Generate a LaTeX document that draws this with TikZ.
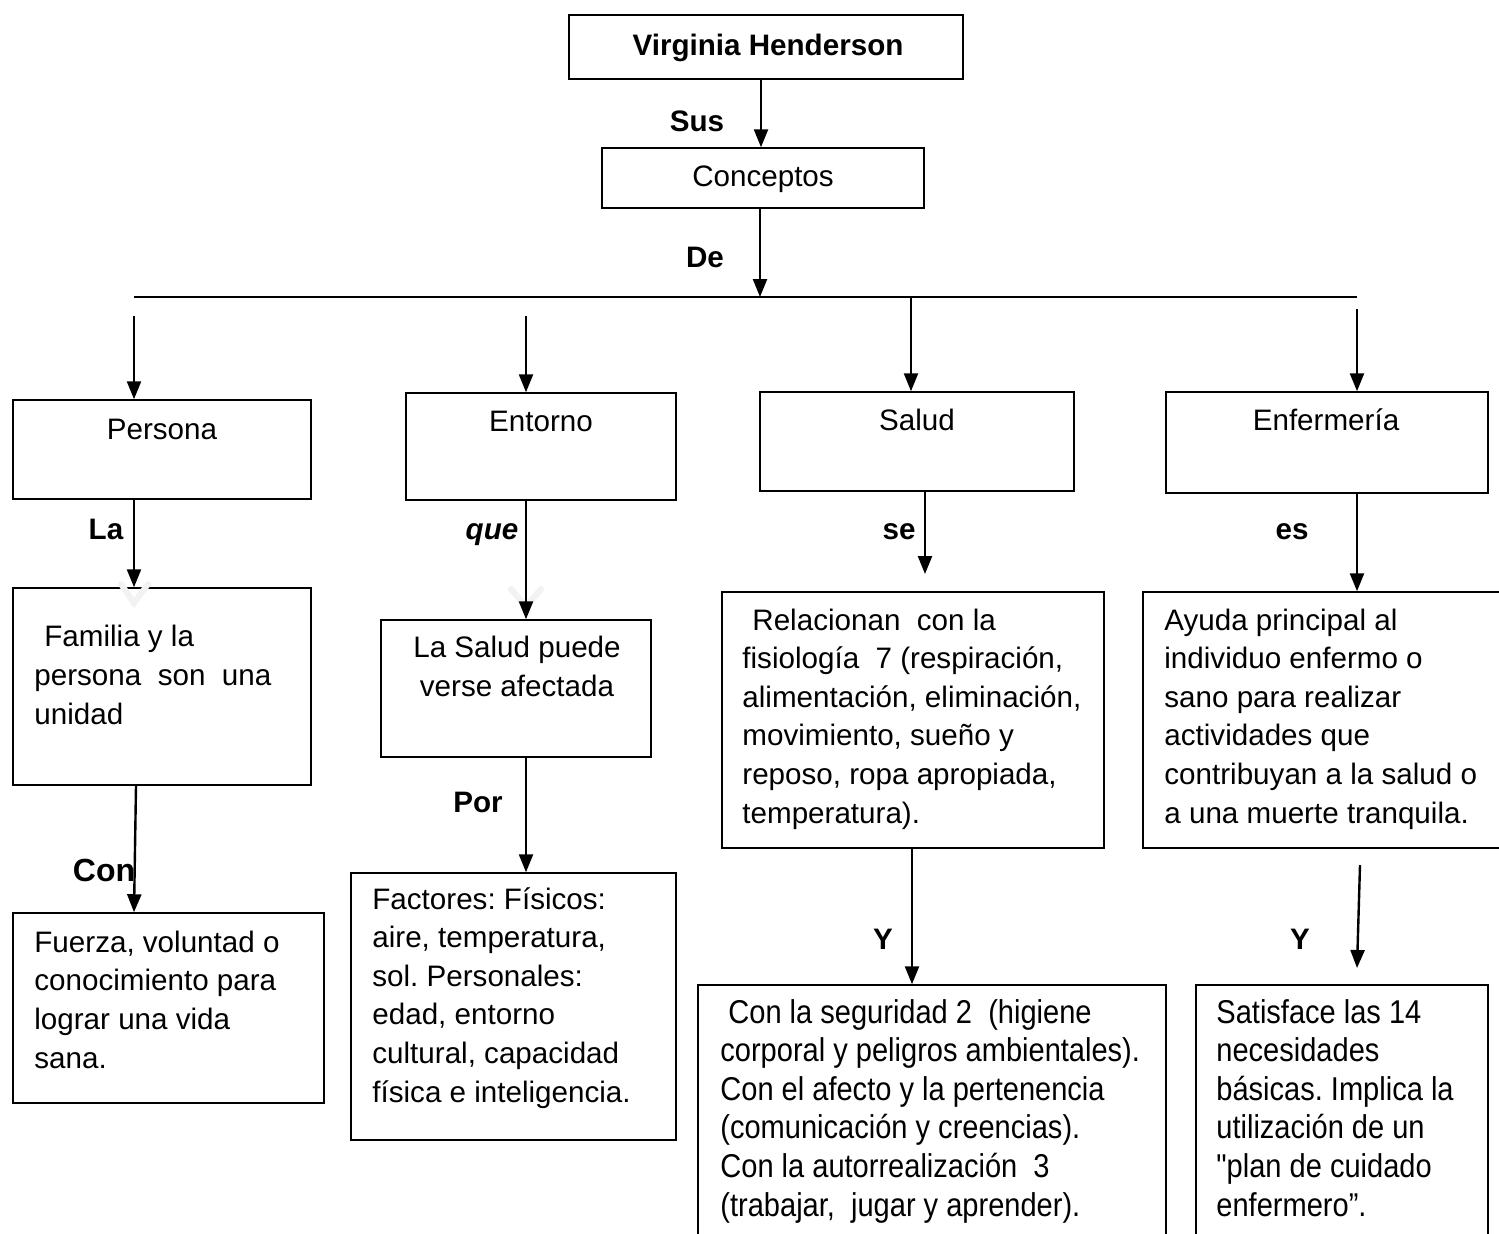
\documentclass[tikz,border=0pt]{standalone}
\usepackage{fontspec}
\setmainfont{Liberation Sans}
\newfontfamily\narrowfont[FakeStretch=0.88]{Liberation Sans}
\usetikzlibrary{arrows.meta}
\frenchspacing
\begin{document}
\begin{tikzpicture}[x=0.5pt,y=-0.5pt,
  box/.style={draw, line width=0.75pt, inner sep=0pt, rectangle},
  arr/.style={line width=1.2pt, -{Triangle[length=9pt,width=7pt]}},
  lbl/.style={font=\fontsize{14.8pt}{19.3pt}\selectfont\bfseries\frenchspacing, inner sep=0pt, anchor=base},
  ttl/.style={font=\fontsize{14.8pt}{19.3pt}\selectfont\frenchspacing, inner sep=0pt, anchor=base},
  txt/.style={font=\fontsize{14.8pt}{19.3pt}\selectfont\frenchspacing, inner sep=0pt, anchor=base west, align=left},
  ntxt/.style={font=\fontsize{16.5pt}{19.3pt}\narrowfont\frenchspacing, inner sep=0pt, anchor=base west, align=left},
  ghost/.style={draw=black!5, line width=3pt, line cap=round}
]
\clip (0,0) rectangle (1499,1233);
\fill[white] (0,0) rectangle (1499,1233);

% boxes
\node[box, minimum width=197pt, minimum height=32pt] (vh) at (766,47) {};
\node[box, minimum width=161pt, minimum height=30pt] (conc) at (763,178) {};
\node[box, minimum width=149pt, minimum height=49.5pt] (persona) at (162,449.5) {};
\node[box, minimum width=135pt, minimum height=53.5pt] (entorno) at (541,446.5) {};
\node[box, minimum width=157pt, minimum height=49.5pt] (salud) at (917,441.5) {};
\node[box, minimum width=161pt, minimum height=50.5pt] (enf) at (1327,442.5) {};
\node[box, minimum width=149pt, minimum height=98.5pt] (familia) at (162,686.5) {};
\node[box, minimum width=135pt, minimum height=68.5pt] (lasalud) at (516,688.5) {};
\node[box, minimum width=162.5pt, minimum height=133.5pt] (factores) at (513.5,1006.5) {};
\node[box, minimum width=155.5pt, minimum height=95pt] (fuerza) at (168.5,1008) {};
\node[box, minimum width=191pt, minimum height=128pt] (relac) at (913,720) {};
\node[box, minimum width=183.5pt, minimum height=128pt] (ayuda) at (1326.5,720) {};
\node[box, minimum width=234pt, minimum height=140pt] (segur) at (932,1125) {};
\node[box, minimum width=146pt, minimum height=140pt] (satisf) at (1342,1125) {};

% texts (multi-line nodes are placed by the baseline of their last line)
\node[lbl] (tvh) at (768,55) {Virginia Henderson};
\node[ttl] (tconc) at (763,186) {Conceptos};
\node[ttl] (tpersona) at (162,439) {Persona};
\node[ttl] (tentorno) at (541,431) {Entorno};
\node[ttl] (tsalud) at (917,430) {Salud};
\node[ttl] (tenf) at (1326,430) {Enfermería};

\node[txt] (tfamilia) at (34,724) {\hspace{5pt}Familia y la\\persona\ \ son\ \ una\\unidad};
\node[ttl, align=center] (tlasalud) at (517,696) {La Salud puede\\verse afectada};
\node[txt] (tfactores) at (372,1102) {Factores: Físicos:\\aire, temperatura,\\sol. Personales:\\edad, entorno\\cultural, capacidad\\física e inteligencia.};
\node[txt] (tfuerza) at (34,1068) {Fuerza, voluntad o\\conocimiento para\\lograr una vida\\sana.};
\node[txt] (trelac) at (742,823) {\hspace{5pt}Relacionan\ \ con la\\fisiología\ \ 7 (respiración,\\alimentación, eliminación,\\movimiento, sueño y\\reposo, ropa apropiada,\\temperatura).};
\node[txt] (tayuda) at (1164,823) {Ayuda principal al\\individuo enfermo o\\sano para realizar\\actividades que\\contribuyan a la salud o\\a una muerte tranquila.};
\node[ntxt] (tsegur) at (720,1216) {\hspace{4pt}Con la seguridad 2\ \ (higiene\\corporal y peligros ambientales).\\Con el afecto y la pertenencia\\(comunicación y creencias).\\Con la autorrealización\ \ 3\\(trabajar,\ \ jugar y aprender).};
\node[ntxt] (tsatisf) at (1216,1216) {Satisface las 14\\necesidades\\básicas. Implica la\\utilización de un\\"plan de cuidado\\enfermero”.};

% connector labels
\node[lbl] (lsus) at (697,131) {Sus};
\node[lbl] (lde) at (705,267) {De};
\node[lbl] (lla) at (106,539) {La};
\node[lbl] (lque) at (492,539) {\itshape que};
\node[lbl] (lse) at (899,539) {se};
\node[lbl] (les) at (1292,539) {es};
\node[lbl] (lpor) at (478,812) {Por};
\node[lbl, font=\fontsize{16pt}{19.3pt}\selectfont\bfseries] (lcon) at (104,881) {Con};
\node[lbl] (ly1) at (883,949) {Y};
\node[lbl] (ly2) at (1300,949) {Y};

% ghost chevrons
\draw[ghost] (121,584) -- (134,603) -- (148,584);
\draw[ghost] (511,589) -- (526,607) -- (541,589);

% coordinates
\coordinate (busL) at (134,297);
\coordinate (busR) at (1357,297);
\coordinate (pTop) at (134,316);
\coordinate (eTop) at (526,316);
\coordinate (sTop) at (911,297);
\coordinate (fTop) at (1357,309);
\coordinate (sEnd) at (925,574);
\coordinate (aStart) at (1360,865);
\coordinate (aEnd) at (1357,968);

% connectors
\draw[arr] (vh.south -| 761,0) -- (conc.north -| 761,0);
\draw[line width=1.2pt] (busL) -- (busR);
\draw[arr] (conc.south -| 760,0) -- (busL -| 760,0);
\draw[arr] (pTop) -- (pTop |- persona.north);
\draw[arr] (eTop) -- (eTop |- entorno.north);
\draw[arr] (sTop) -- (sTop |- salud.north);
\draw[arr] (fTop) -- (fTop |- enf.north);
\draw[arr] (persona.south -| pTop) -- (familia.north -| pTop);
\draw[arr] (entorno.south -| eTop) -- (lasalud.north -| eTop);
\draw[arr] (lasalud.south -| eTop) -- (factores.north -| eTop);
\draw[arr] ([xshift=1pt]familia.south -| pTop) -- (fuerza.north -| pTop);
\draw[arr] (salud.south -| sEnd) -- (sEnd);
\draw[arr] (relac.south -| 912,0) -- (segur.north -| 912,0);
\draw[arr] (enf.south -| fTop) -- (ayuda.north -| fTop);
\draw[arr] (aStart) -- (aEnd);
\end{tikzpicture}
\end{document}
